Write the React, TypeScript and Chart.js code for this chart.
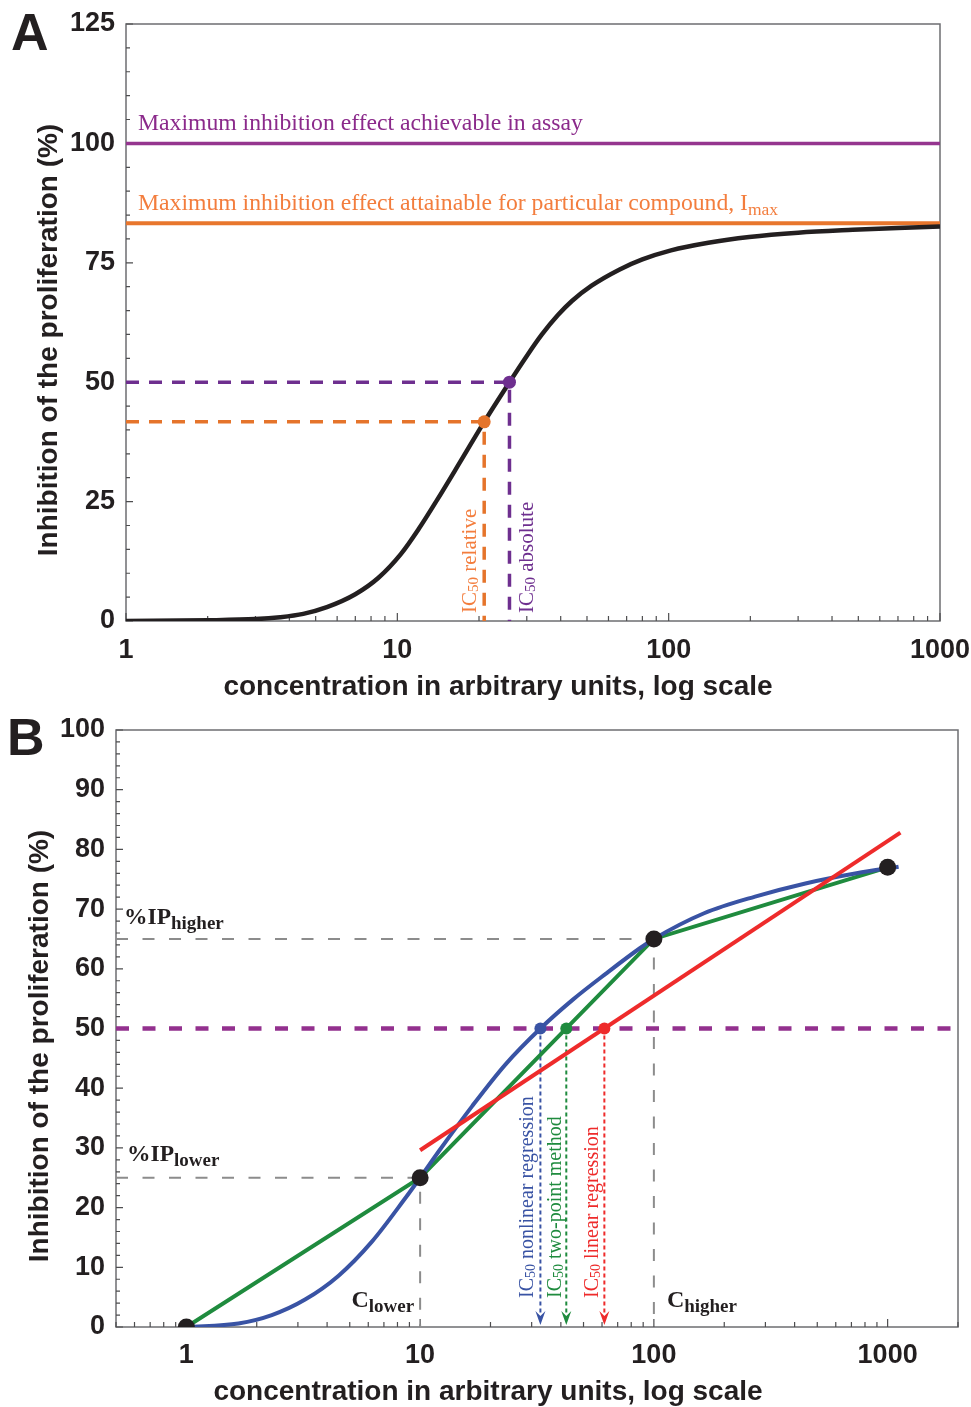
import React, { useEffect, useRef } from 'react';
import { Chart, registerables } from 'chart.js';

Chart.register(...registerables);

const SANS = "'Liberation Sans', Arial, Helvetica, sans-serif";
const SERIF = "'Liberation Serif', 'Times New Roman', serif";
const INK = '#231f20';

// ---------------- Panel A data ----------------
const concA = [1, 2, 3, 3.7, 4.5, 5.5, 7, 8.5, 10.3, 12, 14, 17, 20.9, 25.9, 30, 34, 39, 44, 52, 66, 80, 102, 140, 198, 300, 477, 700, 1000];
const inhibA = [0, 0.15, 0.4, 0.8, 1.5, 2.9, 5.6, 9.0, 14.0, 19.3, 25.3, 33.2, 41.7, 50, 55.5, 59.9, 64.0, 67.0, 70.2, 73.6, 75.7, 77.6, 79.2, 80.4, 81.3, 81.9, 82.3, 82.6];
const rangeA = [1, 1000];
const yRangeA = [0, 125];
const maxAssayA = 100;
const imaxA = 83.3;
const ic50RelativeA = 20.9;
const ic50RelativeLevelA = 41.7;
const ic50AbsoluteA = 25.9;
const ic50AbsoluteLevelA = 50;

// ---------------- Panel B data ----------------
const concPointsB = [1, 10, 100, 1000];
const inhibPointsB = [0, 25, 65, 77];
const concBlueB = [1, 1.67, 2.32, 3.22, 4.48, 6.22, 8.65, 10, 12.0, 16.7, 23.2, 32.7, 44.9, 62.4, 86.8, 100, 164, 271, 445, 736, 1114];
const inhibBlueB = [0, 0.6, 2.0, 4.6, 8.6, 14.3, 21.6, 25, 29.4, 37.0, 44.0, 50, 54.8, 59.2, 63.4, 65, 69.3, 72.1, 74.3, 76.0, 77.1];
const concRedB = [10, 1134];
const inhibRedB = [29.6, 82.8];
const rangeB = [0.5, 2000];
const yRangeB = [0, 100];
const ic50LevelB = 50;
const ic50NonlinearB = 32.7;
const ic50TwoPointB = 42.2;
const ic50LinearB = 61.4;
const cLowerB = 10;
const ipLowerB = 25;
const cHigherB = 100;
const ipHigherB = 65;

const Y_TITLE = 'Inhibition of the proliferation (%)';
const X_TITLE = 'concentration in arbitrary units, log scale';

const COL = {
  purpleLine: '#95358f',
  purpleText: '#8b2a8b',
  orangeLine: '#e8762d',
  orangeText: '#f37d3d',
  violet: '#6e2f8f',
  orangeDash: '#e5742b',
  blue: '#3953a4',
  green: '#1f8b3e',
  red: '#ee2b2b',
  purpleDash: '#93308e',
  gray: '#8c8c8c',
};

type Part = { t: string; size: number; bold?: boolean; dy?: number; family?: string };

function drawRich(
  ctx: CanvasRenderingContext2D,
  parts: Part[],
  x: number,
  y: number,
  color: string,
  rotate = 0,
  align: 'left' | 'center' | 'right' = 'left',
  baseline: CanvasTextBaseline = 'alphabetic'
) {
  ctx.save();
  ctx.translate(x, y);
  if (rotate) ctx.rotate(rotate);
  ctx.fillStyle = color;
  ctx.textBaseline = baseline;
  ctx.textAlign = 'left';
  const fontOf = (p: Part) => `${p.bold ? 'bold ' : ''}${p.size}px ${p.family || SERIF}`;
  let total = 0;
  const widths = parts.map((p) => {
    ctx.font = fontOf(p);
    const w = ctx.measureText(p.t).width;
    total += w;
    return w;
  });
  let cx = align === 'left' ? 0 : align === 'center' ? -total / 2 : -total;
  parts.forEach((p, i) => {
    ctx.font = fontOf(p);
    ctx.fillText(p.t, cx, p.dy || 0);
    cx += widths[i];
  });
  ctx.restore();
}

function isPow10(v: number) {
  const l = Math.log10(v);
  return Math.abs(l - Math.round(l)) < 1e-6;
}

function framePlugin(yStep: number, yMajor: number) {
  return {
    id: 'frame',
    beforeDatasetsDraw(chart: any) {
      const { ctx, chartArea: a, scales } = chart;
      const x = scales.x;
      const y = scales.y;
      ctx.save();
      ctx.strokeStyle = '#6d6e71';
      ctx.lineWidth = 1.5;
      ctx.strokeRect(a.left, a.top, a.right - a.left, a.bottom - a.top);
      ctx.strokeStyle = '#4d4d4f';
      ctx.lineWidth = 1.2;
      ctx.beginPath();
      const minE = Math.floor(Math.log10(x.min));
      const maxE = Math.ceil(Math.log10(x.max));
      for (let e = minE; e <= maxE; e++) {
        for (let k = 1; k <= 9; k++) {
          const v = k * Math.pow(10, e);
          if (v < x.min * 0.999 || v > x.max * 1.001) continue;
          const px = x.getPixelForValue(v);
          const len = k === 1 ? 8 : 5;
          ctx.moveTo(px, a.bottom);
          ctx.lineTo(px, a.bottom - len);
        }
      }
      for (let v = y.min; v <= y.max + 1e-9; v += yStep) {
        const py = y.getPixelForValue(v);
        const major = Math.abs(v / yMajor - Math.round(v / yMajor)) < 1e-6;
        const len = major ? 7 : 4;
        ctx.moveTo(a.left, py);
        ctx.lineTo(a.left + len, py);
      }
      ctx.stroke();
      ctx.restore();
    },
  };
}

const tickFont = { family: SANS, size: 27, weight: 'bold' as const };

function pts(xs: number[], ys: number[]) {
  return xs.map((x, i) => ({ x, y: ys[i] }));
}

function fixX(h: number) {
  return (s: any) => {
    s.height = h;
    s.paddingLeft = 0;
    s.paddingRight = 0;
    s.paddingTop = 0;
    s.paddingBottom = 0;
  };
}
function fixY(w: number) {
  return (s: any) => {
    s.width = w;
    s.paddingLeft = 0;
    s.paddingRight = 0;
    s.paddingTop = 0;
    s.paddingBottom = 0;
  };
}

function configA(): any {
  const textPlugin = {
    id: 'textA',
    afterDraw(chart: any) {
      const { ctx, chartArea: a, scales } = chart;
      const x = scales.x;
      const y = scales.y;
      drawRich(ctx, [{ t: 'A', size: 52, bold: true, family: SANS }], 11, 50, INK);
      drawRich(ctx, [{ t: Y_TITLE, size: 28, bold: true, family: SANS }], 49, 340, INK, -Math.PI / 2, 'center', 'middle');
      drawRich(ctx, [{ t: X_TITLE, size: 28, bold: true, family: SANS }], 498, 687, INK, 0, 'center', 'middle');
      drawRich(
        ctx,
        [{ t: 'Maximum inhibition effect achievable in assay', size: 23.7 }],
        a.left + 12,
        y.getPixelForValue(maxAssayA) - 13,
        COL.purpleText
      );
      drawRich(
        ctx,
        [
          { t: 'Maximum inhibition effect attainable for particular compound, I', size: 23.7 },
          { t: 'max', size: 17.5, dy: 5 },
        ],
        a.left + 12,
        y.getPixelForValue(imaxA) - 13,
        COL.orangeText
      );
      drawRich(
        ctx,
        [
          { t: 'IC', size: 21 },
          { t: '50', size: 15, dy: 4 },
          { t: ' relative', size: 21 },
        ],
        x.getPixelForValue(ic50RelativeA) - 14,
        a.bottom - 8,
        COL.orangeText,
        -Math.PI / 2,
        'left',
        'middle'
      );
      drawRich(
        ctx,
        [
          { t: 'IC', size: 21 },
          { t: '50', size: 15, dy: 4 },
          { t: ' absolute', size: 21 },
        ],
        x.getPixelForValue(ic50AbsoluteA) + 18,
        a.bottom - 8,
        COL.violet,
        -Math.PI / 2,
        'left',
        'middle'
      );
    },
  };

  return {
    type: 'scatter',
    data: {
      datasets: [
        {
          data: [{ x: ic50AbsoluteA, y: ic50AbsoluteLevelA }],
          pointRadius: 6.5,
          backgroundColor: COL.violet,
          borderWidth: 0,
          showLine: false,
        },
        {
          data: [{ x: ic50RelativeA, y: ic50RelativeLevelA }],
          pointRadius: 6.5,
          backgroundColor: COL.orangeDash,
          borderWidth: 0,
          showLine: false,
        },
        {
          data: pts(concA, inhibA),
          showLine: true,
          borderColor: INK,
          borderWidth: 4.5,
          pointRadius: 0,
          cubicInterpolationMode: 'monotone',
        },
        {
          data: [
            { x: rangeA[0], y: ic50AbsoluteLevelA },
            { x: ic50AbsoluteA, y: ic50AbsoluteLevelA },
            { x: ic50AbsoluteA, y: yRangeA[0] },
          ],
          showLine: true,
          borderColor: COL.violet,
          borderWidth: 3.5,
          borderDash: [13, 10],
          pointRadius: 0,
        },
        {
          data: [
            { x: rangeA[0], y: ic50RelativeLevelA },
            { x: ic50RelativeA, y: ic50RelativeLevelA },
            { x: ic50RelativeA, y: yRangeA[0] },
          ],
          showLine: true,
          borderColor: COL.orangeDash,
          borderWidth: 3.5,
          borderDash: [13, 10],
          pointRadius: 0,
        },
        {
          data: [
            { x: rangeA[0], y: maxAssayA },
            { x: rangeA[1], y: maxAssayA },
          ],
          showLine: true,
          borderColor: COL.purpleLine,
          borderWidth: 3.5,
          pointRadius: 0,
        },
        {
          data: [
            { x: rangeA[0], y: imaxA },
            { x: rangeA[1], y: imaxA },
          ],
          showLine: true,
          borderColor: COL.orangeLine,
          borderWidth: 4,
          pointRadius: 0,
        },
      ],
    },
    options: {
      responsive: false,
      animation: false,
      layout: { padding: { left: 0, top: 24, right: 31, bottom: 0 }, autoPadding: false },
      plugins: { legend: { display: false }, tooltip: { enabled: false } },
      scales: {
        x: {
          type: 'logarithmic',
          min: rangeA[0],
          max: rangeA[1],
          grid: { display: false, drawTicks: false },
          border: { display: false },
          ticks: {
            autoSkip: false,
            maxRotation: 0,
            padding: 13,
            font: tickFont,
            color: INK,
            callback: (v: any) => (isPow10(Number(v)) ? String(Number(v)) : ''),
          },
          afterFit: fixX(79),
        },
        y: {
          type: 'linear',
          min: yRangeA[0],
          max: yRangeA[1],
          grid: { display: false, drawTicks: false },
          border: { display: false },
          ticks: { stepSize: 25, padding: 11, font: tickFont, color: INK },
          afterFit: fixY(126),
        },
      },
    },
    plugins: [framePlugin(5, 25), textPlugin],
  };
}

function configB(): any {
  const ics = [
    { v: ic50NonlinearB, c: COL.blue, label: ' nonlinear regression', dx: -13 },
    { v: ic50TwoPointB, c: COL.green, label: ' two-point method', dx: -11 },
    { v: ic50LinearB, c: COL.red, label: ' linear regression', dx: -12 },
  ];
  const textPlugin = {
    id: 'textB',
    afterDatasetsDraw(chart: any) {
      const { ctx, scales } = chart;
      const x = scales.x;
      const y = scales.y;
      ics.forEach((ic) => {
        const px = x.getPixelForValue(ic.v);
        const tip = y.getPixelForValue(yRangeB[0]) - 2;
        ctx.save();
        ctx.fillStyle = ic.c;
        ctx.beginPath();
        ctx.moveTo(px, tip);
        ctx.lineTo(px - 5, tip - 14);
        ctx.lineTo(px, tip - 9);
        ctx.lineTo(px + 5, tip - 14);
        ctx.closePath();
        ctx.fill();
        ctx.restore();
      });
    },
    afterDraw(chart: any) {
      const { ctx, chartArea: a, scales } = chart;
      const x = scales.x;
      const y = scales.y;
      drawRich(ctx, [{ t: 'B', size: 52, bold: true, family: SANS }], 7, 55, INK);
      drawRich(ctx, [{ t: Y_TITLE, size: 28, bold: true, family: SANS }], 40, 346, INK, -Math.PI / 2, 'center', 'middle');
      drawRich(ctx, [{ t: X_TITLE, size: 28, bold: true, family: SANS }], 488, 692, INK, 0, 'center', 'middle');
      drawRich(
        ctx,
        [
          { t: '%IP', size: 23.5, bold: true },
          { t: 'higher', size: 19, bold: true, dy: 5 },
        ],
        a.left + 8,
        y.getPixelForValue(ipHigherB) - 15,
        INK
      );
      drawRich(
        ctx,
        [
          { t: '%IP', size: 23.5, bold: true },
          { t: 'lower', size: 19, bold: true, dy: 5 },
        ],
        a.left + 11,
        y.getPixelForValue(ipLowerB) - 17,
        INK
      );
      drawRich(
        ctx,
        [
          { t: 'C', size: 24, bold: true },
          { t: 'lower', size: 19, bold: true, dy: 5 },
        ],
        x.getPixelForValue(cLowerB) - 6,
        a.bottom - 20,
        INK,
        0,
        'right'
      );
      drawRich(
        ctx,
        [
          { t: 'C', size: 24, bold: true },
          { t: 'higher', size: 19, bold: true, dy: 5 },
        ],
        x.getPixelForValue(cHigherB) + 13,
        a.bottom - 20,
        INK
      );
      ics.forEach((ic) => {
        drawRich(
          ctx,
          [
            { t: 'IC', size: 20 },
            { t: '50', size: 14, dy: 4 },
            { t: ic.label, size: 20 },
          ],
          x.getPixelForValue(ic.v) + ic.dx,
          a.bottom - 29,
          ic.c,
          -Math.PI / 2,
          'left',
          'middle'
        );
      });
    },
  };

  const icDots = ics.map((ic) => ({
    data: [{ x: ic.v, y: ic50LevelB }],
    pointRadius: 6,
    backgroundColor: ic.c,
    borderWidth: 0,
    showLine: false,
  }));
  const icLines = ics.map((ic) => ({
    data: [
      { x: ic.v, y: ic50LevelB },
      { x: ic.v, y: 2 },
    ],
    showLine: true,
    borderColor: ic.c,
    borderWidth: 2,
    borderDash: [4, 3],
    pointRadius: 0,
  }));

  return {
    type: 'scatter',
    data: {
      datasets: [
        {
          data: pts(concPointsB, inhibPointsB),
          pointRadius: 8.5,
          backgroundColor: INK,
          borderWidth: 0,
          showLine: false,
          clip: 0,
        },
        ...icDots,
        {
          data: pts(concRedB, inhibRedB),
          showLine: true,
          borderColor: COL.red,
          borderWidth: 4,
          pointRadius: 0,
        },
        {
          data: pts(concBlueB, inhibBlueB),
          showLine: true,
          borderColor: COL.blue,
          borderWidth: 4,
          pointRadius: 0,
          cubicInterpolationMode: 'monotone',
        },
        {
          data: pts(concPointsB, inhibPointsB),
          showLine: true,
          borderColor: COL.green,
          borderWidth: 4,
          pointRadius: 0,
        },
        ...icLines,
        {
          data: [
            { x: rangeB[0], y: ic50LevelB },
            { x: rangeB[1], y: ic50LevelB },
          ],
          showLine: true,
          borderColor: COL.purpleDash,
          borderWidth: 4.5,
          borderDash: [13, 13.5],
          pointRadius: 0,
        },
        {
          data: [
            { x: rangeB[0], y: ipHigherB },
            { x: cHigherB, y: ipHigherB },
            { x: cHigherB, y: yRangeB[0] },
          ],
          showLine: true,
          borderColor: COL.gray,
          borderWidth: 2,
          borderDash: [12, 14.5],
          pointRadius: 0,
        },
        {
          data: [
            { x: rangeB[0], y: ipLowerB },
            { x: cLowerB, y: ipLowerB },
            { x: cLowerB, y: yRangeB[0] },
          ],
          showLine: true,
          borderColor: COL.gray,
          borderWidth: 2,
          borderDash: [12, 14.5],
          pointRadius: 0,
        },
      ],
    },
    options: {
      responsive: false,
      animation: false,
      layout: { padding: { left: 0, top: 30, right: 13, bottom: 0 }, autoPadding: false },
      plugins: { legend: { display: false }, tooltip: { enabled: false } },
      scales: {
        x: {
          type: 'logarithmic',
          min: rangeB[0],
          max: rangeB[1],
          grid: { display: false, drawTicks: false },
          border: { display: false },
          ticks: {
            autoSkip: false,
            maxRotation: 0,
            padding: 12,
            font: tickFont,
            color: INK,
            callback: (v: any) => (isPow10(Number(v)) ? String(Number(v)) : ''),
          },
          afterFit: fixX(80),
        },
        y: {
          type: 'linear',
          min: yRangeB[0],
          max: yRangeB[1],
          grid: { display: false, drawTicks: false },
          border: { display: false },
          ticks: { stepSize: 10, padding: 11, font: tickFont, color: INK },
          afterFit: fixY(116),
        },
      },
    },
    plugins: [framePlugin(2, 10), textPlugin],
  };
}

export default function App() {
  const refA = useRef<HTMLCanvasElement>(null);
  const refB = useRef<HTMLCanvasElement>(null);
  useEffect(() => {
    const a = new Chart(refA.current as HTMLCanvasElement, configA());
    const b = new Chart(refB.current as HTMLCanvasElement, configB());
    return () => {
      a.destroy();
      b.destroy();
    };
  }, []);
  return (
    <div style={{ position: 'absolute', left: 0, top: 0, width: 971, height: 1407, background: '#fff', overflow: 'hidden' }}>
      <canvas
        ref={refA}
        width={971}
        height={700}
        style={{ position: 'absolute', left: 0, top: 0, width: 971, height: 700 }}
      />
      <canvas
        ref={refB}
        width={971}
        height={707}
        style={{ position: 'absolute', left: 0, top: 700, width: 971, height: 707 }}
      />
    </div>
  );
}
